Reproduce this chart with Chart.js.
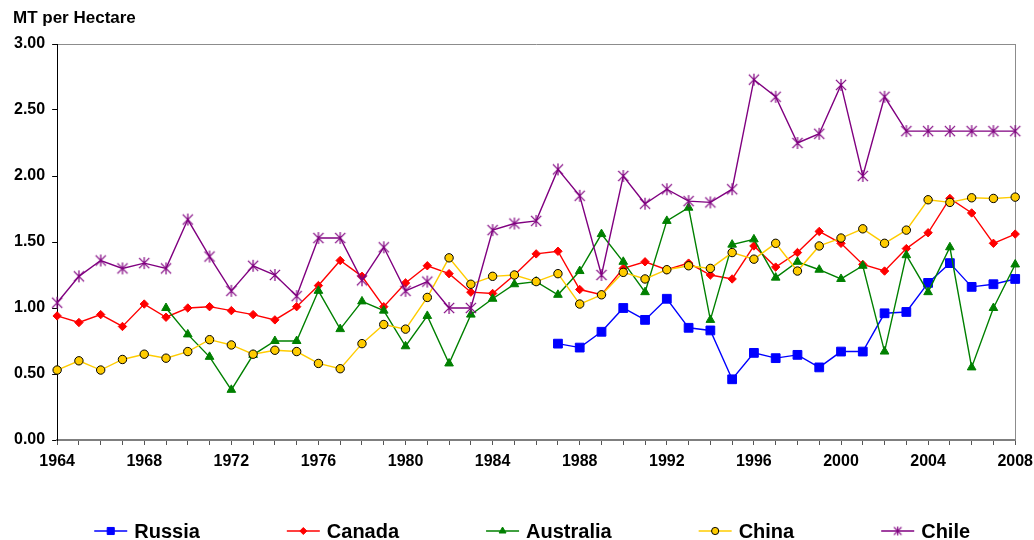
<!DOCTYPE html>
<html>
<head>
<meta charset="utf-8">
<script src="https://cdn.jsdelivr.net/npm/chart.js@4/dist/chart.umd.min.js"></script>
<style>
  html, body { margin: 0; padding: 0; background: #ffffff; }
  #wrap { width: 1034px; height: 540px; }
</style>
</head>
<body>
<div id="wrap"><canvas id="chart" width="1034" height="540"></canvas></div>
<script>
// Yield, metric tonnes per hectare, 1964-2008
const years = [];
for (let y = 1964; y <= 2008; y++) years.push(String(y));

const russia = [
  null, null, null, null, null, null, null, null, null, null,
  null, null, null, null, null, null, null, null, null, null,
  null, null, null,
  0.73, 0.70, 0.82, 1.00, 0.91, 1.07, 0.85,
  0.83, 0.46, 0.66, 0.62, 0.645, 0.55, 0.67, 0.67, 0.96, 0.97,
  1.19, 1.34, 1.16, 1.18, 1.22
];
const canada = [
  0.94, 0.89, 0.95, 0.86, 1.03, 0.93, 1.00, 1.01, 0.98, 0.95,
  0.91, 1.01, 1.17, 1.36, 1.24, 1.01, 1.19, 1.32, 1.26, 1.12,
  1.11, 1.25, 1.41, 1.43, 1.14, 1.10, 1.30, 1.35, 1.29, 1.34,
  1.25, 1.22, 1.47, 1.31, 1.42, 1.58, 1.49, 1.33, 1.28, 1.45,
  1.57, 1.83, 1.72, 1.49, 1.56
];
const australia = [
  null, null, null, null, null,
  1.00, 0.80, 0.63, 0.38, 0.645,
  0.75, 0.75, 1.13, 0.84, 1.05, 0.98, 0.71, 0.94, 0.58, 0.95,
  1.07, 1.18, 1.20, 1.10, 1.28, 1.56, 1.35, 1.12, 1.66, 1.76,
  0.91, 1.48, 1.52, 1.23, 1.35, 1.29, 1.22, 1.32, 0.67, 1.40,
  1.12, 1.46, 0.55, 1.00, 1.33
];
const china = [
  0.53, 0.60, 0.53, 0.61, 0.65, 0.62, 0.67, 0.76, 0.72, 0.65,
  0.68, 0.67, 0.58, 0.54, 0.73, 0.875, 0.84, 1.08, 1.38, 1.18,
  1.24, 1.25, 1.20, 1.26, 1.03, 1.10, 1.27, 1.22, 1.29, 1.32,
  1.30, 1.42, 1.37, 1.49, 1.28, 1.47, 1.53, 1.60, 1.49, 1.59,
  1.82, 1.80, 1.835, 1.83, 1.84
];
const chile = [
  1.04, 1.24, 1.36, 1.30, 1.34, 1.30, 1.67, 1.39, 1.13, 1.32,
  1.25, 1.09, 1.53, 1.53, 1.21, 1.46, 1.13, 1.20, 1.00, 1.00,
  1.59, 1.64, 1.66, 2.05, 1.85, 1.25, 2.00, 1.79, 1.90, 1.81,
  1.80, 1.90, 2.73, 2.60, 2.25, 2.32, 2.69, 2.00, 2.60, 2.34,
  2.34, 2.34, 2.34, 2.34, 2.34
];
const yTicks = [0, 0.5, 1, 1.5, 2, 2.5, 3];
const unitLabel = 'MT per Hectare';

const FONT = "'Liberation Sans', Arial, sans-serif";

// Asterisk marker: an X crossed by a vertical stroke
function asterisk(size, color, lw) {
  const c = document.createElement('canvas');
  c.width = size; c.height = size;
  const g = c.getContext('2d');
  const m = size / 2, r = size / 2 - 1;
  g.strokeStyle = color; g.lineWidth = lw; g.lineCap = 'butt';
  g.beginPath();
  g.moveTo(m - r * 0.85, m - r * 0.85); g.lineTo(m + r * 0.85, m + r * 0.85);
  g.moveTo(m + r * 0.85, m - r * 0.85); g.lineTo(m - r * 0.85, m + r * 0.85);
  g.moveTo(m, m - r); g.lineTo(m, m + r);
  g.stroke();
  return c;
}
const chileMark = asterisk(14, '#800080', 1.2);
const chileMarkSmall = asterisk(11, '#800080', 1.2);

function series(label, data, line, fill, border, style, radius, order, legendStyle, legendRadius) {
  return {
    label, data,
    borderColor: line, borderWidth: 1.4,
    pointStyle: style, pointRadius: radius, pointHoverRadius: radius,
    pointBackgroundColor: fill, pointBorderColor: border, pointBorderWidth: 1,
    tension: 0, spanGaps: false, order,
    legendStyle: legendStyle || style, legendRadius: legendRadius || radius
  };
}

// Unit caption above the value axis, and the legend under the plot
const captions = {
  id: 'captions',
  afterDraw(chart) {
    const ctx = chart.ctx;
    ctx.save();
    ctx.fillStyle = '#000';
    ctx.font = 'bold 17px ' + FONT;
    ctx.textBaseline = 'middle';
    ctx.textAlign = 'left';
    ctx.fillText(unitLabel, 13, 18);

    const stub = 33, textGap = 7, itemGap = 87, cy = 531;
    ctx.font = 'bold 20px ' + FONT;
    const items = chart.data.datasets.map(ds => ({ ds, w: stub + textGap + ctx.measureText(ds.label).width }));
    const total = items.reduce((s, it) => s + it.w, 0) + itemGap * (items.length - 1);
    const ca = chart.chartArea;
    let x = (ca.left + ca.right) / 2 - 4 - total / 2;
    items.forEach(({ ds, w }) => {
      ctx.strokeStyle = ds.borderColor;
      ctx.lineWidth = 1.4;
      ctx.beginPath();
      ctx.moveTo(x, cy); ctx.lineTo(x + stub, cy);
      ctx.stroke();
      ctx.fillStyle = ds.pointBackgroundColor;
      ctx.strokeStyle = ds.pointBorderColor;
      ctx.lineWidth = 1;
      Chart.helpers.drawPoint(ctx, { pointStyle: ds.legendStyle, radius: ds.legendRadius, borderWidth: 1, rotation: 0 }, x + stub / 2, cy);
      ctx.fillStyle = '#000';
      ctx.fillText(ds.label, x + stub + textGap, cy + 1);
      x += w + itemGap;
    });
    ctx.restore();
  }
};

new Chart(document.getElementById('chart'), {
  type: 'line',
  data: {
    labels: years,
    datasets: [
      series('Russia', russia, '#0000FF', '#0000FF', '#0000FF', 'rect', 6.2, 5, 'rect', 5),
      series('Canada', canada, '#FF0000', '#FF0000', '#FF0000', 'rectRot', 4.2, 4, 'rectRot', 3.5),
      series('Australia', australia, '#008000', '#008000', '#008000', 'triangle', 5, 3, 'triangle', 4),
      series('China', china, '#FFCC00', '#FFCC00', '#000000', 'circle', 4.2, 2, 'circle', 3.6),
      series('Chile', chile, '#800080', '#800080', '#800080', chileMark, 7, 1, chileMarkSmall, 5)
    ]
  },
  options: {
    responsive: false,
    animation: false,
    devicePixelRatio: 1,
    layout: { padding: { left: 7, right: 15, top: 44, bottom: 61 } },
    plugins: {
      legend: { display: false },
      tooltip: { enabled: false },
      title: { display: false }
    },
    scales: {
      x: {
        type: 'category',
        offset: false,
        border: { display: true, color: '#7f7f7f', width: 2 },
        grid: {
          drawOnChartArea: true,
          drawTicks: true,
          tickLength: 5,
          tickColor: '#555555',
          lineWidth: 1,
          color: c => (c.index === years.length - 1 ? '#8c8c8c' : 'rgba(0,0,0,0)')
        },
        ticks: {
          autoSkip: false,
          maxRotation: 0,
          minRotation: 0,
          padding: 1,
          color: '#000',
          font: { family: FONT, size: 16, weight: 'bold', lineHeight: 2.0 },
          callback: (v, i) => (i % 4 === 0 ? years[i] : '')
        }
      },
      y: {
        min: 0,
        max: 3,
        afterBuildTicks: s => { s.ticks = yTicks.map(v => ({ value: v })); },
        border: { display: true, color: '#000', width: 1 },
        grid: {
          drawTicks: true,
          tickLength: 5,
          tickColor: '#000',
          color: c => (c.tick && c.tick.value === 3 ? '#8c8c8c' : 'rgba(0,0,0,0)')
        },
        ticks: {
          padding: 7,
          color: '#000',
          font: { family: FONT, size: 16, weight: 'bold' },
          callback: v => Number(v).toFixed(2)
        }
      }
    }
  },
  plugins: [captions]
});
</script>
</body>
</html>
